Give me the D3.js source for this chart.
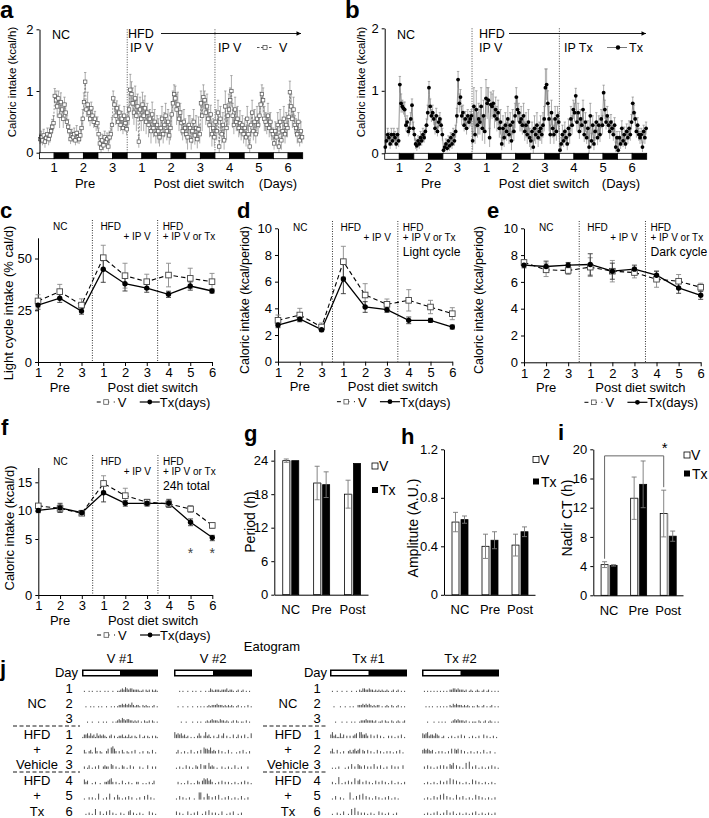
<!DOCTYPE html>
<html>
<head>
<meta charset="utf-8">
<script src="https://cdn.jsdelivr.net/npm/d3@7"></script>
<style>
  body { margin: 0; background: #fff; }
</style>
</head>
<body>
<script>
const FONT = '"Liberation Sans", Arial, Helvetica, sans-serif';

// x categories for the daily panels (3 NC days, 3 HFD days, 3 HFD + drug days)
const dayKeys = ['n1', 'n2', 'n3', 'h1', 'h2', 'h3', 't4', 't5', 't6'];
const dayLabels = ['1', '2', '3', '1', '2', '3', '4', '5', '6'];

// a: hourly intake, vehicle (kcal/h), one row per day, 12 light h then 12 dark h
const hourlyV = [
  0.22,0.25,0.2,0.28,0.18,0.24,0.3,0.22,0.28,0.35,0.42,0.48, 0.92,0.85,0.75,0.88,0.6,0.82,0.7,0.55,0.78,0.65,0.5,0.42,
  0.35,0.22,0.28,0.25,0.3,0.2,0.32,0.25,0.22,0.28,0.4,0.55, 0.82,1.15,0.7,0.78,0.65,0.55,0.72,0.6,0.5,0.55,0.45,0.48,
  0.3,0.15,0.08,0.2,0.12,0.25,0.18,0.22,0.1,0.25,0.3,0.45, 0.88,0.78,0.6,0.72,0.5,0.65,0.45,0.55,0.4,0.6,0.48,0.38,
  0.55,0.7,1.02,0.95,0.8,0.65,0.88,0.6,0.75,0.18,0.7,0.55, 0.78,0.6,0.72,0.5,0.65,0.45,0.55,0.35,0.62,0.4,0.5,0.3,
  0.45,0.35,0.25,0.4,0.55,0.3,0.45,0.6,0.35,0.5,0.28,0.4, 0.62,0.8,0.95,0.88,0.7,0.78,0.55,0.65,0.48,0.35,0.5,0.4,
  0.3,0.25,0.45,0.4,0.2,0.35,0.5,0.28,0.4,0.22,0.38,0.3, 0.8,0.6,0.9,0.85,0.65,0.75,0.55,0.45,0.62,0.3,0.4,0.25,
  0.5,0.35,0.65,0.1,0.55,0.3,0.45,0.2,0.75,0.4,0.6,0.7, 0.85,1.0,0.6,0.45,0.7,0.5,0.55,0.4,0.48,0.35,0.45,0.3,
  0.4,0.25,0.55,0.3,0.1,0.45,0.65,0.35,0.5,0.3,0.55,0.45, 0.6,0.78,0.95,0.85,0.55,0.5,0.45,0.6,0.4,0.5,0.35,0.3,
  0.15,0.35,0.25,0.45,0.1,0.5,0.2,0.35,0.55,0.3,0.45,0.4, 0.58,0.98,0.75,0.55,0.7,0.45,0.4,0.3,0.5,0.2,0.35,0.25
];
const hourlyVErr = [
  0.08,0.1,0.08,0.1,0.1,0.08,0.1,0.1,0.12,0.1,0.12,0.12, 0.12,0.15,0.18,0.12,0.2,0.15,0.12,0.15,0.12,0.15,0.1,0.12,
  0.1,0.08,0.1,0.08,0.1,0.08,0.12,0.1,0.08,0.1,0.12,0.15, 0.15,0.15,0.12,0.2,0.15,0.12,0.1,0.12,0.1,0.12,0.1,0.1,
  0.1,0.08,0.08,0.1,0.08,0.1,0.08,0.1,0.08,0.1,0.1,0.12, 0.12,0.12,0.15,0.12,0.15,0.12,0.1,0.12,0.1,0.15,0.12,0.1,
  0.2,0.25,0.25,0.2,0.25,0.2,0.2,0.25,0.2,0.1,0.2,0.2, 0.2,0.25,0.2,0.2,0.15,0.2,0.15,0.2,0.2,0.15,0.2,0.15,
  0.15,0.2,0.15,0.2,0.2,0.15,0.2,0.2,0.15,0.2,0.15,0.2, 0.2,0.2,0.15,0.2,0.25,0.2,0.2,0.15,0.2,0.15,0.2,0.15,
  0.15,0.2,0.15,0.2,0.15,0.2,0.2,0.15,0.2,0.15,0.2,0.15, 0.2,0.25,0.2,0.15,0.2,0.2,0.15,0.2,0.15,0.2,0.15,0.15,
  0.2,0.15,0.2,0.1,0.2,0.15,0.2,0.15,0.25,0.2,0.2,0.25, 0.2,0.25,0.2,0.15,0.2,0.15,0.2,0.15,0.2,0.15,0.15,0.15,
  0.15,0.15,0.2,0.15,0.1,0.2,0.2,0.15,0.2,0.15,0.2,0.15, 0.2,0.2,0.15,0.2,0.2,0.15,0.15,0.2,0.15,0.15,0.15,0.1,
  0.1,0.15,0.15,0.2,0.1,0.2,0.15,0.15,0.2,0.15,0.2,0.15, 0.2,0.18,0.2,0.15,0.2,0.15,0.15,0.15,0.15,0.1,0.15,0.1
];

// b: hourly intake, Tx group (kcal/h)
const hourlyTx = [
  0.1,0.2,0.3,0.25,0.15,0.3,0.2,0.3,0.25,0.15,0.3,0.2, 1.1,0.8,0.75,0.72,0.7,0.45,0.5,0.35,0.4,0.55,0.77,0.4,
  0.3,0.15,0.12,0.2,0.15,0.25,0.2,0.3,0.25,0.35,0.45,0.65, 1.05,0.75,0.6,0.65,0.55,0.4,0.6,0.35,0.5,0.55,0.45,0.3,
  0.05,0.1,0.15,0.08,0.2,0.12,0.25,0.15,0.3,0.2,0.35,0.6, 1.18,0.8,0.9,0.6,0.65,0.45,0.55,0.4,0.6,0.5,0.55,0.6,
  0.2,0.75,0.3,0.7,0.45,0.55,0.5,0.75,0.4,0.6,0.35,0.88, 0.8,0.85,0.25,0.78,0.75,0.8,0.6,0.7,0.55,0.65,0.4,0.5,
  0.15,0.4,0.25,0.45,0.35,0.55,0.3,0.45,0.2,0.5,0.35,0.6, 0.9,0.7,0.65,0.5,0.55,0.45,0.6,0.35,0.45,0.3,0.5,0.25,
  0.2,0.35,0.1,0.4,0.3,0.45,0.25,0.35,0.4,0.3,0.45,0.55, 1.05,1.1,0.8,0.55,0.3,0.65,0.4,0.3,0.55,0.35,0.6,0.5,
  0.05,0.15,0.3,0.2,0.35,0.25,0.15,0.4,0.3,0.55,0.45,0.7, 0.65,0.92,0.5,0.65,0.35,0.55,0.45,0.7,0.3,0.5,0.25,0.4,
  0.1,0.6,0.2,0.45,0.15,0.35,0.5,0.25,0.45,0.3,0.55,0.45, 0.97,0.7,0.5,0.6,0.45,0.35,0.5,0.4,0.3,0.45,0.1,0.25,
  0.05,0.25,0.15,0.4,0.2,0.3,0.15,0.35,0.25,0.4,0.3,0.5, 0.8,0.65,0.55,0.35,0.45,0.3,0.25,0.3,0.1,0.35,0.25,0.4
];
const hourlyTxErr = [
  0.08,0.1,0.1,0.08,0.08,0.1,0.08,0.1,0.1,0.08,0.1,0.1, 0.13,0.15,0.1,0.1,0.12,0.1,0.1,0.08,0.1,0.1,0.1,0.1,
  0.1,0.08,0.08,0.08,0.08,0.1,0.08,0.1,0.08,0.1,0.1,0.12, 0.1,0.12,0.1,0.12,0.1,0.1,0.12,0.08,0.1,0.1,0.1,0.1,
  0.05,0.05,0.08,0.05,0.08,0.08,0.08,0.08,0.1,0.08,0.1,0.12, 0.13,0.15,0.12,0.15,0.12,0.1,0.12,0.1,0.1,0.1,0.12,0.1,
  0.15,0.3,0.15,0.3,0.2,0.25,0.2,0.3,0.2,0.25,0.2,0.3, 0.25,0.2,0.15,0.2,0.2,0.2,0.2,0.2,0.2,0.2,0.15,0.2,
  0.1,0.2,0.15,0.2,0.15,0.2,0.15,0.2,0.15,0.2,0.15,0.2, 0.15,0.2,0.15,0.15,0.2,0.15,0.2,0.15,0.2,0.15,0.2,0.15,
  0.15,0.15,0.1,0.2,0.15,0.2,0.15,0.15,0.2,0.15,0.2,0.2, 0.3,0.25,0.2,0.2,0.15,0.2,0.15,0.15,0.2,0.15,0.15,0.15,
  0.08,0.1,0.15,0.1,0.15,0.12,0.1,0.15,0.15,0.2,0.15,0.15, 0.15,0.12,0.15,0.15,0.12,0.15,0.12,0.15,0.12,0.15,0.1,0.12,
  0.1,0.2,0.12,0.15,0.1,0.15,0.15,0.12,0.15,0.12,0.15,0.15, 0.12,0.15,0.12,0.15,0.12,0.12,0.12,0.12,0.1,0.12,0.08,0.1,
  0.05,0.1,0.08,0.12,0.1,0.12,0.08,0.12,0.1,0.12,0.1,0.12, 0.1,0.12,0.1,0.1,0.12,0.1,0.1,0.1,0.08,0.1,0.1,0.1
];

// c: light cycle intake (% of daily calories)
const lightPctV = [29.5, 34, 27.5, 50.4, 41.7, 38.8, 42, 40.4, 38.8];
const lightPctVErr = [3, 3.5, 3, 6, 6, 3.6, 5.7, 4.9, 4];
const lightPctTx = [27.5, 30.8, 24.6, 44.8, 37.8, 35.7, 32.7, 36.7, 34.3];
const lightPctTxErr = [2, 2, 1.5, 6.3, 3.5, 2, 1.5, 2, 1];

// d: light cycle intake (kcal/period)
const lightKcalV = [3.1, 3.5, 2.6, 7.5, 5.0, 4.3, 4.6, 4.1, 3.6];
const lightKcalVErr = [0.4, 0.5, 0.3, 1.15, 0.85, 0.4, 0.8, 0.5, 0.45];
const lightKcalTx = [2.75, 3.2, 2.4, 6.2, 4.1, 3.9, 3.1, 3.1, 2.6];
const lightKcalTxErr = [0.2, 0.2, 0.15, 1.1, 0.4, 0.2, 0.25, 0.15, 0.15];

// e: dark cycle intake (kcal/period)
const darkKcalV = [7.45, 6.9, 6.85, 7.1, 6.8, 6.7, 6.2, 6.05, 5.6];
const darkKcalVErr = [0.2, 0.5, 0.3, 0.7, 0.8, 0.4, 0.6, 0.5, 0.3];
const darkKcalTx = [7.25, 7.15, 7.25, 7.3, 6.8, 6.95, 6.5, 5.55, 5.0];
const darkKcalTxErr = [0.2, 0.4, 0.2, 0.8, 0.6, 0.3, 0.3, 0.4, 0.3];

// f: 24 h total intake (kcal/d), read against the printed (uneven) axis
const totalKcalV = [10.85, 10.4, 9.55, 14.8, 12.65, 11.5, 11.2, 10.3, 7.4];
const totalKcalVErr = [0.4, 0.7, 0.4, 1.35, 1.3, 0.5, 0.6, 0.6, 0.5];
const totalKcalTx = [10.05, 10.5, 9.65, 13.15, 11.3, 11.3, 11.3, 7.95, 5.25];
const totalKcalTxErr = [0.4, 0.8, 0.4, 1.6, 0.5, 0.5, 0.7, 0.6, 0.4];
const starDays = ['t5', 't6'];

// g-i: rhythm parameters
const phaseCats = ['NC', 'Pre', 'Post'];
const periodV = [24, 20, 18];
const periodVErr = [0.3, 3, 2.5];
const periodTx = [24, 19.7, 23.5];
const periodTxErr = [0, 2.3, 0];
const amplitudeV = [0.6, 0.4, 0.41];
const amplitudeVErr = [0.08, 0.1, 0.09];
const amplitudeTx = [0.62, 0.45, 0.52];
const amplitudeTxErr = [0.03, 0.07, 0.04];
const nadirV = [4.2, 13.3, 11.2];
const nadirVErr = [0.4, 2.9, 3.2];
const nadirTx = [4.1, 15.2, 8.1];
const nadirTxErr = [0.1, 3.2, 0.7];

// j: eatogram, one string per day row, each char = feeding bout size in a 30 min bin
const eatogramRows = ['1', '2', '3', '1', '2', '3', '4', '5', '6'];
const eatoV1 = [
  '010010100101001010010011232432332222112021202121',
  '001001010010100100101012232323242122102121101201',
  '000100100010010100010123243233221212010211202101',
  '133424231423232102302012231213120210301202102021',
  '031023105202100240564202031021020300102002103010',
  '020130102030023220430201032010302000201003002020',
  '042300102001002234520201030102010022001010201300',
  '010020201050010205002042010203020010200304020100',
  '001020105003010304020100201003402010201000302010'
];
const eatoV2 = [
  '000101001001010010010132122212223122101201201010',
  '001001001001001010101212223222121212101201010201',
  '000010010001001010012123222132212101202101102010',
  '534342312010102420252310201302402010301302030104',
  '013010201030102030544352320302010301001020301020',
  '010201030201032040330523201002010201030102000200',
  '002010103010103203545342010203020201020102030201',
  '010302010200100660205302030401020301020103010200',
  '030201003010203001030402020103001020300102000000'
];
const eatoTx1 = [
  '010010010010010010213322322121212112101201201010',
  '001000100100101002223232321212201012102101201010',
  '000100010010010100122232222120112021102101210120',
  '352311413020202340553342030203020100202010203010',
  '241030102002313423403203020103020102020102030100',
  '010102000102040204320302020402030102003020200300',
  '020106010203020503402030201030203020103010201020',
  '010300201000601030405030201030201020301020100000',
  '010020103001050603020201020100302010200102000000'
];
const eatoTx2 = [
  '010101010101010102233232221201210121012012010101',
  '001010100101010102132322212121011021012010120101',
  '000100010010101000123232221201011102101201210101',
  '434523324320120010201020302001020102003020102010',
  '343432301020201020404340302010201020103010200100',
  '020302010203030204350302010506020301020102030201',
  '010201020103020305040302010201040302010201020100',
  '010201030204050302010402030102010403020102010200',
  '010201020301020402030102010201020301020102010200'
];

const svg = d3.select('body').append('svg')
  .attr('width', 709).attr('height', 818)
  .style('font-family', FONT)
  .style('background', '#fff');

function addText(x, y, s, size, anchor = 'start', weight = 'normal') {
  return svg.append('text')
    .attr('x', x).attr('y', y)
    .attr('font-size', size)
    .attr('text-anchor', anchor)
    .attr('font-weight', weight)
    .attr('fill', '#000')
    .text(s);
}

function addVText(x, y, s, size) {
  return svg.append('text')
    .attr('transform', `translate(${x},${y}) rotate(-90)`)
    .attr('font-size', size)
    .attr('text-anchor', 'middle')
    .attr('dy', '0.35em')
    .attr('fill', '#000')
    .text(s);
}

function styleAxis(g, size) {
  g.attr('font-family', FONT);
  g.selectAll('text').attr('font-size', size).attr('fill', '#000');
  g.selectAll('path, line').attr('stroke', '#000');
}

// ---------- a / b: hourly traces ----------
function drawHourly(opt) {
  const x = d3.scaleLinear().domain([0, 216]).range([opt.x0, opt.x1]);
  const y = d3.scaleLinear().domain([0, 2]).range([opt.y0, opt.y1]);
  const pts = opt.values.map((v, i) => ({ h: i + 0.5, v, e: opt.errors[i] }));
  const g = svg.append('g');

  g.selectAll('line.divider')
    .data([72, 144])
    .join('line')
      .attr('x1', d => x(d)).attr('x2', d => x(d))
      .attr('y1', opt.y1).attr('y2', opt.y0)
      .attr('stroke', '#000').attr('stroke-width', 0.7)
      .attr('stroke-dasharray', '1,1.5');

  // error bars
  const eb = g.append('g').attr('stroke', '#8a8a8a').attr('stroke-width', 0.7);
  eb.selectAll('line.v')
    .data(pts)
    .join('line')
      .attr('x1', d => x(d.h)).attr('x2', d => x(d.h))
      .attr('y1', d => y(Math.max(0, d.v - d.e))).attr('y2', d => y(d.v + d.e));
  eb.selectAll('line.cap')
    .data(pts)
    .join('line')
      .attr('x1', d => x(d.h) - 1.2).attr('x2', d => x(d.h) + 1.2)
      .attr('y1', d => y(d.v + d.e)).attr('y2', d => y(d.v + d.e));

  g.append('path')
    .datum(pts)
    .attr('d', d3.line().x(d => x(d.h)).y(d => y(d.v)))
    .attr('fill', 'none')
    .attr('stroke', '#7a7a7a')
    .attr('stroke-width', 0.8)
    .attr('stroke-dasharray', opt.square ? '2,1.5' : null);

  if (opt.square) {
    g.selectAll('rect.m')
      .data(pts)
      .join('rect')
        .attr('x', d => x(d.h) - 1.7).attr('y', d => y(d.v) - 1.7)
        .attr('width', 3.4).attr('height', 3.4)
        .attr('fill', '#fff').attr('stroke', '#555').attr('stroke-width', 0.7);
  } else {
    g.selectAll('circle.m')
      .data(pts)
      .join('circle')
        .attr('cx', d => x(d.h)).attr('cy', d => y(d.v))
        .attr('r', 1.9).attr('fill', '#000');
  }

  const ya = g.append('g')
    .attr('transform', `translate(${opt.x0},0)`)
    .call(d3.axisLeft(y).tickValues([0, 1, 2]).tickFormat(d3.format('d')).tickSize(3).tickSizeOuter(0).tickPadding(3));
  styleAxis(ya, 13);

  // light / dark bar
  const phases = dayKeys.flatMap(k => [{ k, dark: false }, { k, dark: true }]);
  g.selectAll('rect.ld')
    .data(phases)
    .join('rect')
      .attr('x', (d, i) => x(i * 12)).attr('width', x(12) - x(0))
      .attr('y', opt.y0).attr('height', 6)
      .attr('fill', d => d.dark ? '#000' : '#fff')
      .attr('stroke', '#000').attr('stroke-width', 0.8);

  g.selectAll('text.day')
    .data(dayLabels)
    .join('text')
      .attr('x', (d, i) => x(i * 24 + 12)).attr('y', opt.y0 + 19)
      .attr('text-anchor', 'middle').attr('font-size', 13)
      .text(d => d);
  return x;
}

drawHourly({ x0: 39.5, x1: 302.7, y0: 152.7, y1: 29.3, values: hourlyV, errors: hourlyVErr, square: true });
drawHourly({ x0: 384.7, x1: 646.7, y0: 153.3, y1: 28.3, values: hourlyTx, errors: hourlyTxErr, square: false });

addText(0, 18, 'a', 24, 'start', 'bold');
addText(345, 18, 'b', 24, 'start', 'bold');
addVText(12, 82, 'Caloric intake (kcal/h)', 11.5);
addVText(361, 82, 'Caloric intake (kcal/h)', 11.5);

addText(52, 38.5, 'NC', 12.5);
addText(128, 38.3, 'HFD', 12.5);
addText(130, 51.8, 'IP V', 12.5);
addText(218, 51.8, 'IP V', 12.5);
addText(397, 38.5, 'NC', 12.5);
addText(479, 38.3, 'HFD', 12.5);
addText(479, 51.8, 'IP V', 12.5);
addText(564, 51.8, 'IP Tx', 12.5);

// arrows
svg.append('defs').append('marker')
  .attr('id', 'arr').attr('viewBox', '0 0 10 10').attr('refX', 10).attr('refY', 5)
  .attr('markerWidth', 7).attr('markerHeight', 5).attr('orient', 'auto')
  .append('path').attr('d', 'M0,0L10,5L0,10z').attr('fill', '#000');
[[161, 301, 33.5], [509, 646, 33.5]].forEach(([x1, x2, yy]) => {
  svg.append('line').attr('x1', x1).attr('x2', x2).attr('y1', yy).attr('y2', yy)
    .attr('stroke', '#000').attr('stroke-width', 0.9).attr('marker-end', 'url(#arr)');
});

// legends a / b
svg.append('line').attr('x1', 257).attr('x2', 273).attr('y1', 47.5).attr('y2', 47.5)
  .attr('stroke', '#555').attr('stroke-dasharray', '2.5,1.5');
svg.append('rect').attr('x', 263).attr('y', 45.5).attr('width', 4).attr('height', 4)
  .attr('fill', '#fff').attr('stroke', '#555').attr('stroke-width', 0.8);
addText(279, 51.8, 'V', 12.5);
svg.append('line').attr('x1', 607).attr('x2', 627).attr('y1', 47.5).attr('y2', 47.5)
  .attr('stroke', '#777').attr('stroke-width', 1);
svg.append('circle').attr('cx', 618).attr('cy', 47.5).attr('r', 2.2).attr('fill', '#000');
addText(629, 51.8, 'Tx', 12.5);

addText(85, 188, 'Pre', 13, 'middle');
addText(199, 188, 'Post diet switch', 13, 'middle');
addText(278, 188, '(Days)', 13, 'middle');
addText(431, 188, 'Pre', 13, 'middle');
addText(544, 188, 'Post diet switch', 13, 'middle');
addText(621, 188, '(Days)', 13, 'middle');

// ---------- c-f: daily panels ----------
function drawDaily(opt) {
  const x = d3.scalePoint().domain(dayKeys).range([opt.x0, opt.x1]);
  const y = d3.scaleLinear().domain(opt.yDomain).range(opt.yRange);
  const g = svg.append('g');
  const div1 = (x('n3') + x('h1')) / 2;
  const div2 = (x('h3') + x('t4')) / 2;

  g.selectAll('line.divider')
    .data([div1, div2])
    .join('line')
      .attr('x1', d => d).attr('x2', d => d)
      .attr('y1', opt.annY - 6).attr('y2', opt.yRange[0])
      .attr('stroke', '#000').attr('stroke-width', 0.8)
      .attr('stroke-dasharray', '1,1.5');

  const ya = g.append('g')
    .attr('transform', `translate(${opt.x0},0)`)
    .call(d3.axisLeft(y).tickValues(opt.ticks).tickSize(3).tickSizeOuter(0).tickPadding(3));
  styleAxis(ya, 13);

  const y0 = opt.yRange[0];
  const xaxis = g.append('g')
    .attr('transform', `translate(0,${y0})`)
    .call(d3.axisBottom(x).tickFormat((d, i) => dayLabels[i]).tickSize(4).tickSizeOuter(0).tickPadding(2));
  styleAxis(xaxis, 13);

  const series = [
    { key: 'V', vals: opt.v, errs: opt.vErr, ebColor: '#8a8a8a' },
    { key: 'Tx', vals: opt.tx, errs: opt.txErr, ebColor: '#333' }
  ];
  series.forEach(s => {
    const pts = s.vals.map((v, i) => ({ k: dayKeys[i], v, e: s.errs[i] }));
    const eb = g.append('g').attr('stroke', s.ebColor).attr('stroke-width', 0.9);
    eb.selectAll('line.v').data(pts).join('line')
      .attr('x1', d => x(d.k)).attr('x2', d => x(d.k))
      .attr('y1', d => y(d.v - d.e)).attr('y2', d => y(d.v + d.e));
    eb.selectAll('line.t').data(pts).join('line')
      .attr('x1', d => x(d.k) - 2.5).attr('x2', d => x(d.k) + 2.5)
      .attr('y1', d => y(d.v + d.e)).attr('y2', d => y(d.v + d.e));
    eb.selectAll('line.b').data(pts).join('line')
      .attr('x1', d => x(d.k) - 2.5).attr('x2', d => x(d.k) + 2.5)
      .attr('y1', d => y(d.v - d.e)).attr('y2', d => y(d.v - d.e));
    g.append('path').datum(pts)
      .attr('d', d3.line().x(d => x(d.k)).y(d => y(d.v)))
      .attr('fill', 'none').attr('stroke', '#000')
      .attr('stroke-width', s.key === 'V' ? 1.1 : 1.3)
      .attr('stroke-dasharray', s.key === 'V' ? '4.5,3' : null);
    s.pts = pts;
  });
  g.selectAll('rect.m').data(series[0].pts).join('rect')
    .attr('x', d => x(d.k) - 2.8).attr('y', d => y(d.v) - 2.8)
    .attr('width', 5.6).attr('height', 5.6)
    .attr('fill', '#fff').attr('stroke', '#444').attr('stroke-width', 0.9);
  g.selectAll('circle.m').data(series[1].pts).join('circle')
    .attr('cx', d => x(d.k)).attr('cy', d => y(d.v)).attr('r', 2.7).attr('fill', '#000');

  // annotations
  addText(opt.x0 + 15, opt.annY + 3.5, 'NC', 10);
  addText(div1 + 8, opt.annY + 3.5, 'HFD', 10);
  addText(div1 + 31, opt.annY + 14, '+ IP V', 10);
  addText(div2 + 5, opt.annY + 3.5, 'HFD', 10);
  addText(div2 + 5, opt.annY + 14, '+ IP V or Tx', 10);
  if (opt.note) addText(div2 + 5, opt.annY + 29, opt.note, 12.2);

  // labels under the axis
  addText(x('n2'), y0 + 29.5, 'Pre', 13, 'middle');
  addText(x('h3') + 6, y0 + 29.5, 'Post diet switch', 13, 'middle');
  const lx = x('h3') + 6 - 56;
  const ly = y0 + 40;
  svg.append('line').attr('x1', lx).attr('x2', lx + 18).attr('y1', ly).attr('y2', ly)
    .attr('stroke', '#000').attr('stroke-dasharray', '4,4.5');
  svg.append('rect').attr('x', lx + 7).attr('y', ly - 2.3).attr('width', 4.6).attr('height', 4.6)
    .attr('fill', '#fff').attr('stroke', '#555').attr('stroke-width', 0.8);
  addText(lx + 21, ly + 5, 'V', 13);
  const tx = lx + 43;
  svg.append('line').attr('x1', tx).attr('x2', tx + 20).attr('y1', ly).attr('y2', ly)
    .attr('stroke', '#000').attr('stroke-width', 1.2);
  svg.append('circle').attr('cx', tx + 10).attr('cy', ly).attr('r', 2.4).attr('fill', '#000');
  addText(tx + 20, ly + 5, 'Tx(days)', 13);

  if (opt.stars) {
    svg.selectAll(null).data(opt.stars).join('text')
      .attr('x', d => x(d)).attr('y', opt.starY)
      .attr('text-anchor', 'middle').attr('font-size', 14).attr('fill', '#444')
      .text('*');
  }
  return { x, y };
}

drawDaily({ x0: 38, x1: 212, yDomain: [0, 60], yRange: [362, 237.8], ticks: [0, 25, 50], annY: 226,
  v: lightPctV, vErr: lightPctVErr, tx: lightPctTx, txErr: lightPctTxErr });
drawDaily({ x0: 278, x1: 452.3, yDomain: [0, 10], yRange: [361.7, 228.3], ticks: [0, 2, 4, 6, 8, 10], annY: 227,
  v: lightKcalV, vErr: lightKcalVErr, tx: lightKcalTx, txErr: lightKcalTxErr, note: 'Light cycle' });
drawDaily({ x0: 524, x1: 700.7, yDomain: [0, 10], yRange: [362.3, 228.3], ticks: [0, 2, 4, 6, 8, 10], annY: 227,
  v: darkKcalV, vErr: darkKcalVErr, tx: darkKcalTx, txErr: darkKcalTxErr, note: 'Dark cycle' });
drawDaily({ x0: 38.3, x1: 212.3, yDomain: [0, 5, 10, 15, 17.6], yRange: [595, 539, 510.7, 482.3, 467.5],
  ticks: [0, 5, 10, 15], annY: 461,
  v: totalKcalV, vErr: totalKcalVErr, tx: totalKcalTx, txErr: totalKcalTxErr, note: '24h total',
  stars: starDays, starY: 558 });

addText(0, 218, 'c', 22, 'start', 'bold');
addText(237, 218, 'd', 22, 'start', 'bold');
addText(487, 218, 'e', 22, 'start', 'bold');
addText(1, 435, 'f', 22, 'start', 'bold');
addVText(8, 303, 'Light cycle intake (% cal/d)', 13);
addVText(245, 300, 'Caloric intake (kcal/period)', 12.5);
addVText(479, 300, 'Caloric intake (kcal/period)', 12.5);
addVText(9, 528, 'Caloric intake (kcal/d)', 13);

// ---------- g-i: bar panels ----------
function drawBars(opt) {
  const x = d3.scaleBand().domain(phaseCats).range([opt.x0 + 1, opt.x1]);
  const y = d3.scaleLinear().domain([0, opt.yMax]).range([opt.y0, opt.yTop]);
  const g = svg.append('g');
  const bw = 7;
  const groups = [
    { key: 'V', vals: opt.v, errs: opt.vErr, dx: -bw - 1, fill: '#fff' },
    { key: 'Tx', vals: opt.tx, errs: opt.txErr, dx: 1, fill: '#000' }
  ];
  groups.forEach(s => {
    const d = s.vals.map((v, i) => ({ c: phaseCats[i], v, e: s.errs[i] }));
    const cx = r => x(r.c) + x.bandwidth() / 2 + s.dx;
    g.selectAll(null).data(d).join('rect')
      .attr('x', cx).attr('width', bw)
      .attr('y', r => y(r.v)).attr('height', r => opt.y0 - y(r.v))
      .attr('fill', s.fill).attr('stroke', '#000').attr('stroke-width', 0.8);
    if (s.key === 'V') {
      g.selectAll(null).data(d).join('line')
        .attr('x1', r => cx(r) + bw + 0.5).attr('x2', r => cx(r) + bw + 0.5)
        .attr('y1', r => y(r.v)).attr('y2', opt.y0)
        .attr('stroke', '#999').attr('stroke-width', 1.2);
    }
    const eb = g.append('g').attr('stroke', '#777').attr('stroke-width', 0.9);
    const ed = d.filter(r => r.e > 0);
    eb.selectAll(null).data(ed).join('line')
      .attr('x1', r => cx(r) + bw / 2).attr('x2', r => cx(r) + bw / 2)
      .attr('y1', r => y(r.v - r.e)).attr('y2', r => y(r.v + r.e));
    eb.selectAll(null).data(ed).join('line')
      .attr('x1', r => cx(r) + bw / 2 - 2.5).attr('x2', r => cx(r) + bw / 2 + 2.5)
      .attr('y1', r => y(r.v + r.e)).attr('y2', r => y(r.v + r.e));
    eb.selectAll(null).data(ed).join('line')
      .attr('x1', r => cx(r) + bw / 2 - 2.5).attr('x2', r => cx(r) + bw / 2 + 2.5)
      .attr('y1', r => y(r.v - r.e)).attr('y2', r => y(r.v - r.e));
  });

  const ya = g.append('g')
    .attr('transform', `translate(${opt.x0},0)`)
    .call(d3.axisLeft(y).tickValues(opt.ticks).tickFormat(opt.fmt || d3.format('d'))
      .tickSize(3).tickSizeOuter(0).tickPadding(3));
  styleAxis(ya, 13);
  const xaxis = g.append('g')
    .attr('transform', `translate(0,${opt.y0})`)
    .call(d3.axisBottom(d3.scaleBand().domain(phaseCats).range([opt.x0, opt.x1]))
      .tickSize(0).tickPadding(10));
  styleAxis(xaxis, 13);
  xaxis.selectAll('.tick').attr('transform', c => `translate(${x(c) + x.bandwidth() / 2},0)`);

  // legend
  svg.append('rect').attr('x', opt.legX).attr('y', opt.legY - 3).attr('width', 6).attr('height', 6)
    .attr('fill', '#fff').attr('stroke', '#000').attr('stroke-width', 0.8);
  addText(opt.legX + 7, opt.legY + 5, 'V', 14);
  svg.append('rect').attr('x', opt.legX).attr('y', opt.legY + opt.legGap - 3).attr('width', 6).attr('height', 6)
    .attr('fill', '#000');
  addText(opt.legX + 8, opt.legY + opt.legGap + 5, 'Tx', 14);
  return { x, y, bw };
}

drawBars({ x0: 274.3, x1: 368, y0: 594.7, yTop: 449.5, yMax: 26, ticks: [0, 6, 12, 18, 24],
  v: periodV, vErr: periodVErr, tx: periodTx, txErr: periodTxErr, legX: 372, legY: 466, legGap: 24 });
drawBars({ x0: 444, x1: 535, y0: 594.8, yTop: 449.3, yMax: 1.2, ticks: [0, 0.4, 0.8, 1.2],
  fmt: d => d === 0 ? '0' : d.toFixed(1),
  v: amplitudeV, vErr: amplitudeVErr, tx: amplitudeTx, txErr: amplitudeTxErr, legX: 533, legY: 459.5, legGap: 22 });
const bi = drawBars({ x0: 593.3, x1: 683, y0: 595.3, yTop: 449.3, yMax: 20, ticks: [0, 4, 8, 12, 16, 20],
  v: nadirV, vErr: nadirVErr, tx: nadirTx, txErr: nadirTxErr, legX: 684, legY: 455, legGap: 18.5 });

// significance bracket NC vs Post (V)
{
  const xl = bi.x('NC') + bi.x.bandwidth() / 2 - bi.bw / 2 - 1;
  const xr = bi.x('Post') + bi.x.bandwidth() / 2 - bi.bw / 2 - 1;
  svg.append('path')
    .attr('d', `M${xl},${bi.y(nadirV[0] + nadirVErr[0]) - 3}V${bi.y(19.1)}H${xr}V${bi.y(nadirV[2] + nadirVErr[2]) - 3}`)
    .attr('fill', 'none').attr('stroke', '#666').attr('stroke-width', 1);
  addText(xr + 1, 453, '*', 15, 'middle');
}

addText(244, 441, 'g', 22, 'start', 'bold');
addText(401, 444, 'h', 22, 'start', 'bold');
addText(558, 440, 'i', 22, 'start', 'bold');
addVText(250, 522, 'Period (h)', 14);
addVText(413, 528, 'Amplitute (A.U.)', 14);
addVText(567, 518, 'Nadir CT (h)', 14);

// ---------- j: eatogram ----------
addText(0, 676, 'j', 22, 'start', 'bold');
addText(272, 651, 'Eatogram', 13, 'middle');

const rowY = d3.scalePoint().domain(d3.range(eatogramRows.length)).range([688, 811]);

function drawEatogram(x0, width, rows, title) {
  const x = d3.scaleLinear().domain([0, 24]).range([x0, x0 + width]);
  addText(x0 + width / 2, 663, title, 13, 'middle');
  svg.append('rect').attr('x', x(0)).attr('y', 669.5).attr('width', x(24) - x(0)).attr('height', 7)
    .attr('fill', '#000');
  svg.append('rect').attr('x', x(0) + 1.5).attr('y', 671).attr('width', x(12) - x(0) - 1.5).attr('height', 4)
    .attr('fill', '#fff');
  rows.forEach((str, r) => {
    const bouts = str.split('').map((c, i) => ({ t: (i + 0.5) * 24 / str.length, s: +c })).filter(b => b.s > 0);
    svg.append('g').selectAll('line').data(bouts).join('line')
      .attr('x1', b => x(b.t)).attr('x2', b => x(b.t))
      .attr('y1', rowY(r) + 4).attr('y2', b => rowY(r) + 4 - b.s * 1.2)
      .attr('stroke', '#222').attr('stroke-width', 0.8);
  });
}

function drawEatoLabels(cx, numX, dayRight, dashX0, dashX1) {
  addText(dayRight, 677, 'Day', 13, 'end');
  eatogramRows.forEach((d, r) => addText(numX, rowY(r) + 4.5, d, 13, 'middle'));
  [['NC', 1], ['HFD', 3], ['+', 4], ['Vehicle', 5], ['HFD', 6], ['+', 7], ['Tx', 8]]
    .forEach(([s, r]) => addText(cx, rowY(r) + 4.5, s, 13, 'middle'));
  [726, 772].forEach(yy => svg.append('line')
    .attr('x1', dashX0).attr('x2', dashX1).attr('y1', yy).attr('y2', yy)
    .attr('stroke', '#000').attr('stroke-width', 0.9).attr('stroke-dasharray', '4,2.5'));
}

drawEatoLabels(37, 69, 78, 13, 80);
drawEatoLabels(288, 317, 327, 263, 328);
drawEatogram(82, 76, eatoV1, 'V #1');
drawEatogram(174, 78, eatoV2, 'V #2');
drawEatogram(330, 77, eatoTx1, 'Tx #1');
drawEatogram(422, 77, eatoTx2, 'Tx #2');
</script>
</body>
</html>
